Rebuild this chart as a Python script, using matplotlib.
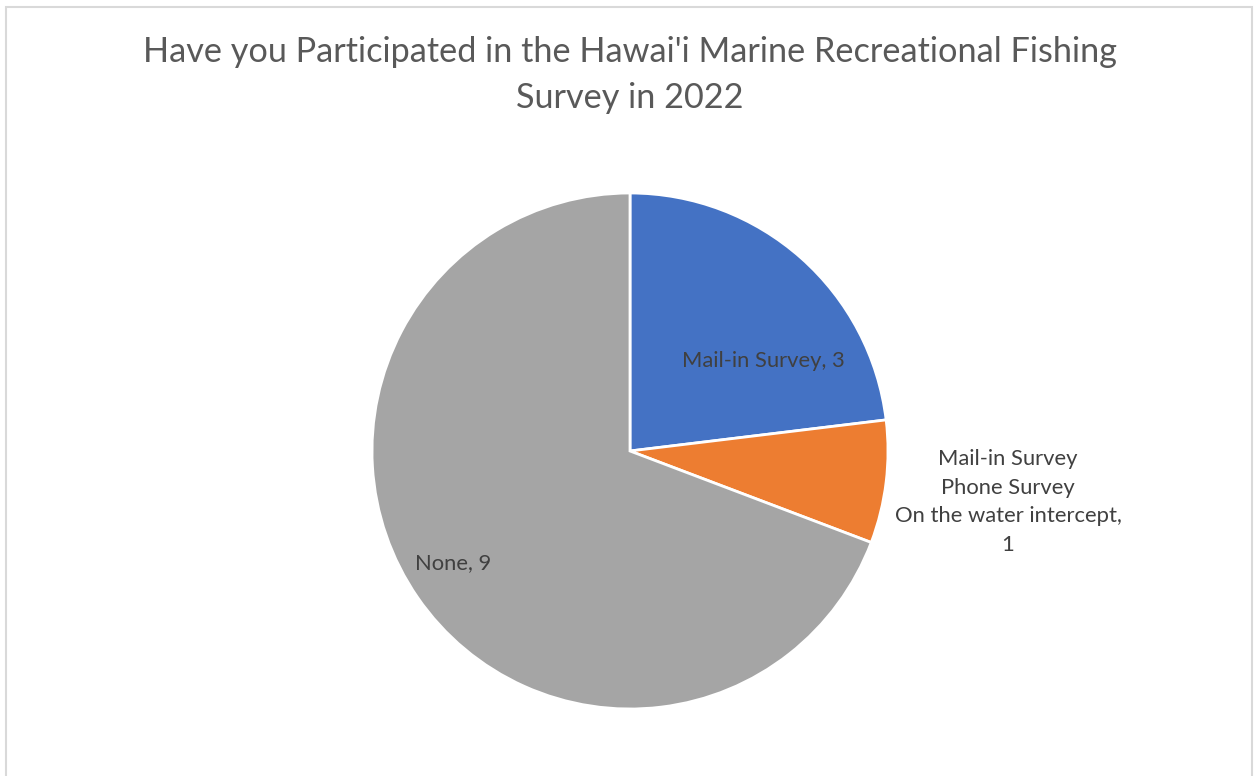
import matplotlib
matplotlib.use("Agg")
import matplotlib.pyplot as plt
from matplotlib.patches import Rectangle

categories = ["Mail-in Survey", "Mail-in Survey\nPhone Survey\nOn the water intercept", "None"]
values = [3, 1, 9]
colors = ["#4472C4", "#ED7D31", "#A5A5A5"]
title = "Have you Participated in the Hawai'i Marine Recreational Fishing\nSurvey in 2022"

W, H = 1254, 776
fig = plt.figure(figsize=(W / 100, H / 100), dpi=100)
fig.patch.set_facecolor("white")
fig.patches.append(Rectangle((6 / W, -0.01), (1252 - 6) / W, (H - 7) / H + 0.01,
                             transform=fig.transFigure, fill=False,
                             edgecolor="#D9D9D9", linewidth=1.5))

cx, cy, r = 630, H - 451, 258
ax = fig.add_axes([(cx - r) / W, (cy - r) / H, 2 * r / W, 2 * r / H])
wedges, _ = ax.pie(values, colors=colors, startangle=90, counterclock=False,
                   wedgeprops=dict(edgecolor="white", linewidth=2))
ax.set_xlim(-1, 1)
ax.set_ylim(-1, 1)
ax.set_aspect("auto")
ax.axis("off")

font = "Lato"
label_pos = [(0.516, 0.349), (1.465, -0.198), (-0.686, -0.434)]
texts = [f"{categories[0]}, {values[0]}",
         f"{categories[1]},\n{values[1]}",
         f"{categories[2]}, {values[2]}"]
for (x, y), t in zip(label_pos, texts):
    ax.text(x, y, t, ha="center", va="center", fontsize=15.8, color="#404040",
            family=font, linespacing=1.53)

fig.text(630 / W, 1 - 75 / H, title, ha="center", va="center", fontsize=24.7,
         color="#595959", family=font, linespacing=1.53)

fig.savefig("out.png", dpi=100, facecolor="white")
